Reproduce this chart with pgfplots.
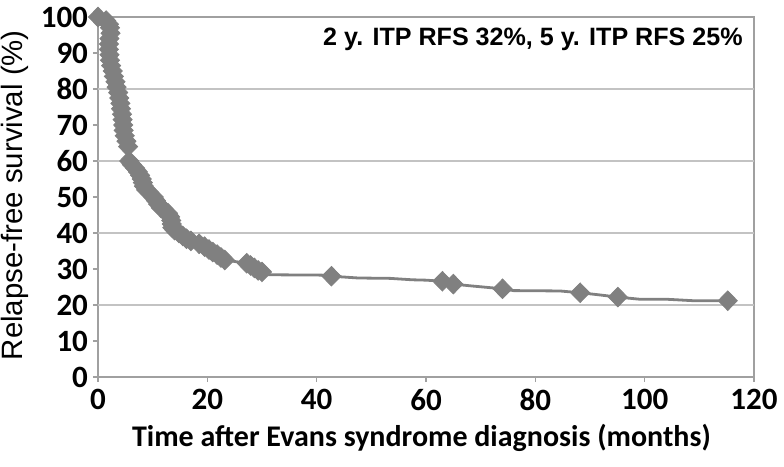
\documentclass[border=0pt]{standalone}
\usepackage{pgfplots}
\pgfplotsset{compat=1.18}
\usepackage{fontspec}
\setmainfont{Carlito}
\newfontfamily\arial{Liberation Sans}
\definecolor{kmgray}{RGB}{128,128,128}
\definecolor{gridgray}{RGB}{195,195,195}
\definecolor{axgray}{RGB}{160,160,160}

\begin{document}
\begin{tikzpicture}
\useasboundingbox (-49pt,-45pt) rectangle (343pt,188.5pt);
\begin{axis}[
  at={(0,0)}, anchor=south west,
  scale only axis,
  width=328pt, height=180pt,
  xmin=0, xmax=120, ymin=0, ymax=100,
  xtick={0,20,...,120},
  ytick={0,10,...,100},
  tick align=outside,
  xtick pos=bottom, ytick pos=left,
  major tick length=2.5pt,
  tick style={axgray, line width=0.8pt},
  axis line style={axgray, line width=1.1pt},
  /pgf/number format/assume math mode=true,
  ticklabel style={font=\bfseries\fontsize{15.5}{15.5}\selectfont},
  yticklabel style={xshift=1pt},
  extra y ticks={20,40,60,80},
  extra y tick labels={},
  extra y tick style={grid=major, major tick length=0pt},
  major grid style={gridgray, line width=0.6pt},
  xlabel={\bfseries Time after Evans syndrome diagnosis (months)},
  xlabel style={font=\fontsize{15}{15}\selectfont,
    at={(axis description cs:0.493,-0.169)}, anchor=center},
  ylabel={Relapse-free survival (\%)},
  ylabel style={font=\arial\fontsize{14.7}{14.7}\selectfont,
    at={(axis description cs:-0.127,0.505)}, anchor=center},
  clip=false,
]
% line through all points (including censored, unmarked)
\addplot[kmgray, line width=1.4pt, mark=none] coordinates {
(0,100)(1.5,99)(2,98)(2.2,97)(2.3,95.5)(2.1,94)(2.0,92.5)(2.0,91)(2.1,89.5)
(2.2,88)(2.4,86.5)(2.7,85)(2.9,83.5)(3.2,82)(3.4,80.5)(3.7,79)(3.9,77.5)
(4.1,76)(4.2,74.5)(4.4,73)(4.5,71.5)(4.6,70)(4.7,68.5)(4.9,67)(5.2,65.5)
(5.5,64)(5.6,62.5)(5.7,60)(6.2,59)(6.8,58)(7.3,57)(7.7,56)(8.0,55)(8.2,54)
(8.4,53)(8.8,52)(9.5,51)(10.2,50)(10.6,49)(11.0,48)(11.5,47)(12.2,46.2)
(12.8,45.5)(13.2,44.5)(13.4,43.5)(13.5,42.5)(13.6,41.5)(14.0,40.8)(14.8,40)
(15.5,39.2)(16.2,38.4)(17,37.8)(18.5,37)(19.5,36.2)(20.3,35.4)(21,34.7)
(21.8,34)(22.5,33.2)(23.2,32.5)(25.4,32)(27.2,31.6)(27.9,31)(28.6,30.3)
(29.3,29.6)(30,29.2)(31,28.4)(41,28.3)(42.7,28)(47.6,27.5)(53.4,27.4)
(57.5,27.0)(60,26.9)(63,26.6)(65,25.8)(68.3,25.3)(74,24.5)(76,24)(84.5,23.9)
(88.2,23.4)(91.2,22.9)(95.1,22.2)(99.1,21.6)(104,21.6)(108.8,21.2)(115.2,21.2)
};
% event markers
\addplot[only marks, mark=diamond*, mark size=4.9pt,
  mark options={kmgray, fill=kmgray, xscale=1.3}] coordinates {
(0,100)(1.5,99)(2,98)(2.2,97)(2.3,95.5)(2.1,94)(2.0,92.5)(2.0,91)(2.1,89.5)
(2.2,88)(2.4,86.5)(2.7,85)(2.9,83.5)(3.2,82)(3.4,80.5)(3.7,79)(3.9,77.5)
(4.1,76)(4.2,74.5)(4.4,73)(4.5,71.5)(4.6,70)(4.7,68.5)(4.9,67)(5.2,65.5)
(5.5,64)(5.7,60)(6.2,59)(6.8,58)(7.3,57)(7.7,56)(8.0,55)(8.2,54)
(8.4,53)(8.8,52)(9.5,51)(10.2,50)(10.6,49)(11.0,48)(11.5,47)(12.2,46.2)
(12.8,45.5)(13.2,44.5)(13.4,43.5)(13.5,42.5)(13.6,41.5)(14.0,40.8)(14.8,40)
(15.5,39.2)(16.2,38.4)(17,37.8)(18.5,37)(19.5,36.2)(20.3,35.4)(21,34.7)
(21.8,34)(22.5,33.2)(23.2,32.5)(27.2,31.6)(27.9,31)(28.6,30.3)
(29.3,29.6)(30,29.2)(42.7,28)(63,26.6)(65,25.8)(74,24.5)
(88.2,23.4)(95.1,22.2)(115.2,21.2)
};
\node[anchor=east, inner sep=0pt, font=\arial\bfseries\fontsize{12.55}{12.55}\selectfont]
  at (axis cs:118.0,93.9) {2 y. ITP RFS 32\%, 5 y. ITP RFS 25\%};
\end{axis}
\end{tikzpicture}
\end{document}
